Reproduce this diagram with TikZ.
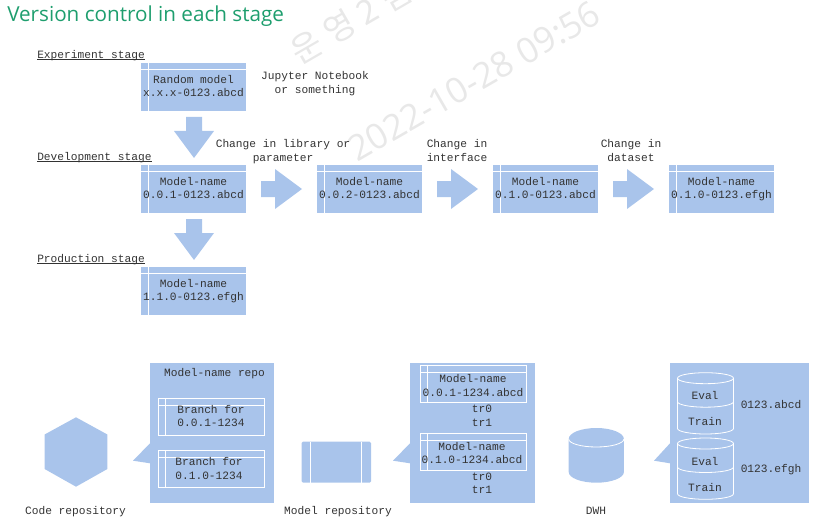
\documentclass[tikz,border=0pt]{standalone}
\usepackage{fontspec}
\setmainfont{Liberation Mono}
\newfontfamily\titlefont{Open Sans}
\newfontfamily\cjk{Noto Sans CJK KR}
\definecolor{fillblue}{HTML}{A9C4EB}
\definecolor{titlegreen}{HTML}{1E9E6E}
\definecolor{wmark}{HTML}{E8E8E8}
\definecolor{txt}{HTML}{333333}
\tikzset{
  x=0.75pt,y=-0.75pt,
  lbl/.style={font=\fontsize{8.4}{10}\selectfont,text=txt,align=center,inner sep=0pt,yshift=-1.2pt,
    execute at begin node=\strut,execute at end node=\strut},
  stagelbl/.style={lbl,anchor=west},
  stagerule/.style={draw=txt,line width=0.6pt},
  wline/.style={draw=white,line width=0.6pt},
  wmarktext/.style={text=wmark,inner sep=0pt,rotate=30},
}
\newcommand{\modelbox}[4]{% name, left x, top y, text
  \fill[fillblue] (#2,#3) rectangle ++(105,48);
  \draw[wline] (#2,#3+6.5) -- ++(105,0);
  \draw[wline] (#2+7,#3) -- ++(0,48);
  \node[lbl] (#1) at (#2+52.5,#3+23.5) {#4};
}
\newcommand{\innerbox}[5]{% name, x, y, w, h
  \draw[wline] (#2,#3) rectangle ++(#4,#5);
  \draw[wline] (#2,#3+7) -- ++(#4,0);
  \draw[wline] (#2+7,#3) -- ++(0,#5);
}
\newcommand{\smallcyl}[3]{% x center, top y, bottom y
  \draw[wline,fill=fillblue] (#1-28,#2+5.5) -- (#1-28,#3-5.5) arc[start angle=180,end angle=0,x radius=28,y radius=5.5] -- (#1+28,#2+5.5);
  \draw[wline] (#1,#2+5.5) ellipse[x radius=28,y radius=5.5];
  \draw[wline] (#1-28,#2+29) arc[start angle=180,end angle=0,x radius=28,y radius=5.5];
}
\begin{document}
\begin{tikzpicture}
\useasboundingbox (0,0) rectangle (818,528);
\begin{scope}
\clip (0,0) rectangle (818,528);
% watermark
\node[wmarktext,font=\cjk\fontsize{25}{30}\selectfont] (wm1) at (351,21) {운 영 2 팀};
\node[wmarktext,font=\titlefont\fontsize{26.5}{30}\selectfont] (wm2) at (474,81) {2022-10-28 09:56};
\end{scope}
% title
\node[anchor=west,inner sep=0pt,text=titlegreen,font=\titlefont\fontsize{15.5}{18}\selectfont] (title) at (7,16) {Version control in each stage};
% stage labels
\node[stagelbl] (s1) at (37,54.5) {Experiment stage};
\node[stagelbl] (s2) at (37,156.5) {Development stage};
\node[stagelbl] (s3) at (37,258.5) {Production stage};
\draw[stagerule] (s1.west |- 0,59.5) -- (s1.east |- 0,59.5);
\draw[stagerule] (s2.west |- 0,161.5) -- (s2.east |- 0,161.5);
\draw[stagerule] (s3.west |- 0,263.5) -- (s3.east |- 0,263.5);
% boxes
\modelbox{m0}{141}{63}{Random model\\x.x.x-0123.abcd}
\modelbox{m1}{141}{165}{Model-name\\0.0.1-0123.abcd}
\modelbox{m2}{317}{165}{Model-name\\0.0.2-0123.abcd}
\modelbox{m3}{493}{165}{Model-name\\0.1.0-0123.abcd}
\modelbox{m4}{669}{165}{Model-name\\0.1.0-0123.efgh}
\modelbox{m5}{141}{267}{Model-name\\1.1.0-0123.efgh}
\node[lbl] (j) at (315,83) {Jupyter Notebook\\or something};
% arrows down
\fill[fillblue] (186,117) -- (202,117) -- (202,131) -- (214,131) -- (194,158) -- (174,131) -- (186,131) -- cycle;
\fill[fillblue] (186,219) -- (202,219) -- (202,233) -- (214,233) -- (194,260) -- (174,233) -- (186,233) -- cycle;
% arrows right
\foreach \ax in {261,437,613}{
  \fill[fillblue] (\ax,181) -- (\ax+14,181) -- (\ax+14,169) -- (\ax+41,189) -- (\ax+14,209) -- (\ax+14,197) -- (\ax,197) -- cycle;
}
\node[lbl] (c1) at (283,151) {Change in library or\\parameter};
\node[lbl] (c2) at (457,151) {Change in\\interface};
\node[lbl] (c3) at (631,151) {Change in\\dataset};
% code repository
\fill[fillblue] (76,417.3) -- (107.4,434.5) -- (107.4,469) -- (76,486.7) -- (44.6,469) -- (44.6,434.5) -- cycle;
\node[lbl] (l1) at (75.5,510) {Code repository};
\fill[fillblue] (150,363) rectangle (274,503);
\fill[fillblue] (133,460.7) -- (150,443.3) -- (150,463.3) -- cycle;
\node[lbl] (t1) at (214.5,372.5) {Model-name repo};
\innerbox{b1}{158}{398}{106}{37}
\innerbox{b2}{158}{450}{106}{37}
\node[lbl] (b1t) at (211,416.5) {Branch for\\0.0.1-1234};
\node[lbl] (b2t) at (209,469) {Branch for\\0.1.0-1234};
% model repository
\fill[fillblue,rounded corners=1pt] (301.7,441.7) rectangle (371,482.7);
\draw[wline] (310.7,441.7) -- (310.7,482.7);
\draw[wline] (361.7,441.7) -- (361.7,482.7);
\node[lbl] (l2) at (338,510) {Model repository};
\fill[fillblue] (410,363) rectangle (535,503);
\fill[fillblue] (393,460.7) -- (410,443.3) -- (410,463.3) -- cycle;
\innerbox{r1}{420.3}{365.3}{105.7}{37.4}
\innerbox{r2}{420.3}{433.3}{105.7}{37}
\node[lbl] (r1x) at (473,386) {Model-name\\0.0.1-1234.abcd};
\node[lbl] (r2x) at (472,453.3) {Model-name\\0.1.0-1234.abcd};
\node[lbl] (r1t) at (482,416) {tr0\\tr1};
\node[lbl] (r2t) at (482,483.5) {tr0\\tr1};
% DWH
\fill[fillblue] (568.7,439) arc[start angle=180,end angle=360,x radius=27.6,y radius=11] -- (623.9,472) arc[start angle=0,end angle=180,x radius=27.6,y radius=10.7] -- cycle;
\draw[wline] (568.7,439) arc[start angle=180,end angle=0,x radius=27.6,y radius=8];
\node[lbl] (l3) at (596,510) {DWH};
\fill[fillblue] (670,363) rectangle (809,503);
\fill[fillblue] (654,460.7) -- (670,443.3) -- (670,463.3) -- cycle;
\smallcyl{705.5}{372.7}{434}
\smallcyl{705.5}{438}{499.3}
\node[lbl] (e1) at (705,395.7) {Eval};
\node[lbl] (tr1) at (705,421.7) {Train};
\node[lbl] (e2) at (705,461.7) {Eval};
\node[lbl] (tr2) at (705,487.7) {Train};
\node[lbl] (h1) at (771,404.7) {0123.abcd};
\node[lbl] (h2) at (771,468.7) {0123.efgh};
\end{tikzpicture}
\end{document}
